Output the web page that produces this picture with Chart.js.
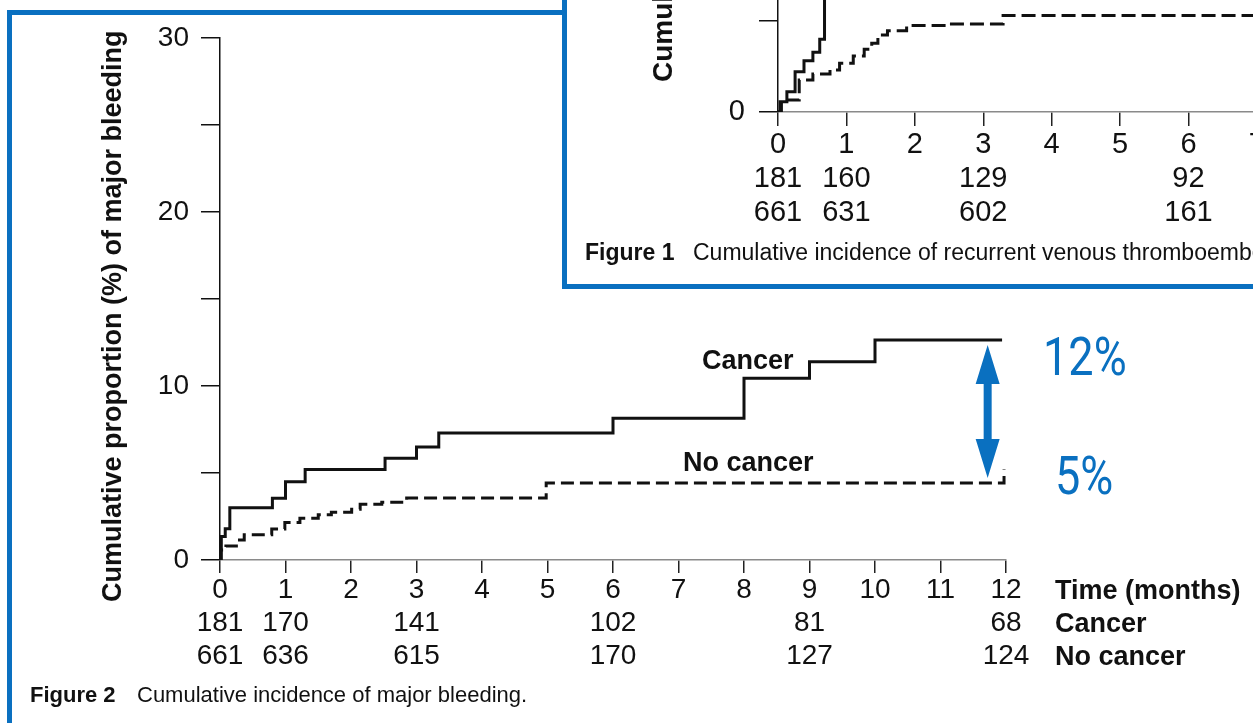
<!DOCTYPE html>
<html>
<head>
<meta charset="utf-8">
<script src="https://cdn.jsdelivr.net/npm/chart.js@4.4.1/dist/chart.umd.min.js"></script>
<style>
  html, body { margin: 0; padding: 0; }
  body { width: 1253px; height: 723px; overflow: hidden; position: relative; background: #fff;
         font-family: 'Liberation Sans', Arial, sans-serif; color: #111; }
  .frame { position: absolute; left: 7px; top: 10px; width: 1400px; height: 900px;
           border: 5px solid #0a70c0; box-sizing: border-box; }
  .inset { position: absolute; left: 562px; top: -20px; width: 800px; height: 309px;
           border: 5px solid #0a70c0; box-sizing: border-box; background: #fff; overflow: hidden; z-index: 5; }
  .t { position: absolute; white-space: nowrap; line-height: 1.2; }
  .b { font-weight: bold; }
  .ytitle { position: absolute; white-space: nowrap; line-height: 1; font-weight: bold;
            transform: rotate(-90deg); transform-origin: 0 0; }
  .pct { position: absolute; white-space: nowrap; line-height: 1.2; font-family: Roboto, sans-serif;
         font-size: 53px; color: #0a70c0; transform: scaleX(0.85); transform-origin: 0 0; }
  canvas { position: absolute; }
</style>
</head>
<body>
<div class="frame"></div>
<canvas id="bleedChart" width="1253" height="723" style="left:0;top:0"></canvas>

<div class="ytitle" style="left:99px;top:602px;font-size:27px">Cumulative proportion (%) of major bleeding</div>
<div class="t b" style="left:702px;top:344px;font-size:27px">Cancer</div>
<div class="t b" style="left:683px;top:446px;font-size:27px">No cancer</div>
<div class="pct" style="left:1043px;top:326px">12%</div>
<div class="pct" style="left:1055px;top:445px">5%</div>
<div class="t b" style="left:1055px;top:574px;font-size:27px">Time (months)</div>
<div class="t b" style="left:1055px;top:607px;font-size:27px">Cancer</div>
<div class="t b" style="left:1055px;top:640px;font-size:27px">No cancer</div>
<div class="t" style="left:30px;top:682px;font-size:22px"><b>Figure 2</b></div>
<div class="t" style="left:137px;top:682px;font-size:22px">Cumulative incidence of major bleeding.</div>

<div class="inset">
  <canvas id="vteChart" width="1100" height="765" style="left:0;top:-465px"></canvas>
  <div class="ytitle" style="left:82px;top:97px;font-size:28px">Cumulative proportion (%) of recurrent VTE</div>
  <div class="t" style="left:18px;top:254px;font-size:23px"><b>Figure 1</b></div>
  <div class="t" style="left:126px;top:254px;font-size:23px">Cumulative incidence of recurrent venous thromboembolism.</div>
</div>

<script>
// x ticks (months) and numbers at risk
var months = [0, 1, 2, 3, 4, 5, 6, 7, 8, 9, 10, 11, 12];
var yLabelValues = [0, 10, 20, 30];

// Figure 2: major bleeding
var atRiskCancer   = ["181", "170", "", "141", "", "", "102", "", "", "81", "", "", "68"];
var atRiskNoCancer = ["661", "636", "", "615", "", "", "170", "", "", "127", "", "", "124"];
var cancerT     = [0, 0.02, 0.08, 0.15, 0.8, 1.0, 1.3, 2.52, 3.0, 3.34, 6.0, 8.0, 9.0, 10.0, 11.94];
var cancerPct   = [0, 1.35, 1.8, 3.0, 3.55, 4.5, 5.2, 5.85, 6.5, 7.3, 8.15, 10.45, 11.4, 12.65, 12.65];
var noCancerT   = [0, 0.01, 0.09, 0.25, 0.37, 0.79, 0.99, 1.22, 1.5, 1.7, 2.01, 2.14, 2.47, 2.85, 4.98, 11.97];
var noCancerPct = [0, 0.57, 0.8, 1.15, 1.45, 1.78, 2.15, 2.4, 2.6, 2.75, 2.92, 3.2, 3.32, 3.56, 4.43, 5.2];
var arrowMonth = 11.72;

// Figure 1 (inset): recurrent VTE
var vteRiskCancer   = ["181", "160", "", "129", "", "", "92", "", "", "", "", "", ""];
var vteRiskNoCancer = ["661", "631", "", "602", "", "", "161", "", "", "", "", "", ""];
var vteCancerT     = [0, 0.03, 0.13, 0.25, 0.38, 0.51, 0.61, 0.68];
var vteCancerPct   = [0, 0.56, 1.11, 2.2, 2.81, 3.27, 3.98, 9.5];
var vteNoCancerT   = [0, 0.05, 0.31, 0.51, 0.76, 0.9, 1.1, 1.26, 1.37, 1.46, 1.6, 1.88, 2.46, 3.29, 12];
var vteNoCancerPct = [0, 0.66, 1.75, 2.08, 2.3, 2.67, 3.07, 3.43, 3.76, 4.22, 4.45, 4.73, 4.82, 5.28, 5.28];

var NUM_FONT = "'Liberation Sans Narrow', 'Liberation Sans', Arial, sans-serif";

function points(ts, vs) {
    return ts.map(function (t, i) { return { x: t, y: vs[i] }; });
}

// blue double arrow between the two 12-month values
var gapArrow = {
    id: "gapArrow",
    afterDatasetsDraw: function (chart) {
        var ctx = chart.ctx;
        var x = chart.scales.x.getPixelForValue(arrowMonth);
        var top = chart.scales.y.getPixelForValue(cancerPct[cancerPct.length - 1]) + 5;
        var bot = chart.scales.y.getPixelForValue(noCancerPct[noCancerPct.length - 2]) - 5;
        var head = 39, half = 12, shaft = 4;
        ctx.save();
        ctx.fillStyle = "#0a70c0";
        ctx.beginPath();
        ctx.moveTo(x, top);
        ctx.lineTo(x + half, top + head);
        ctx.lineTo(x + shaft, top + head);
        ctx.lineTo(x + shaft, bot - head);
        ctx.lineTo(x + half, bot - head);
        ctx.lineTo(x, bot);
        ctx.lineTo(x - half, bot - head);
        ctx.lineTo(x - shaft, bot - head);
        ctx.lineTo(x - shaft, top + head);
        ctx.lineTo(x - half, top + head);
        ctx.closePath();
        ctx.fill();
        ctx.restore();
    }
};

function kmChart(id, o) {
    return new Chart(document.getElementById(id), {
        type: "line",
        data: {
            datasets: [
                {
                    label: "Cancer",
                    data: o.cancer,
                    borderColor: "#111",
                    borderWidth: o.lw,
                    stepped: "before",
                    pointRadius: 0,
                    fill: false
                },
                {
                    label: "No cancer",
                    data: o.noCancer,
                    borderColor: "#111",
                    borderWidth: o.lw,
                    borderDash: o.dash,
                    stepped: "before",
                    pointRadius: 0,
                    fill: false
                }
            ]
        },
        options: {
            responsive: false,
            animation: false,
            events: [],
            layout: { padding: o.padding },
            plugins: { legend: { display: false }, tooltip: { enabled: false } },
            scales: {
                x: {
                    type: "linear",
                    min: 0,
                    max: 12,
                    afterFit: function (s) { s.height = o.xHeight; },
                    grid: { drawOnChartArea: false, tickLength: o.xTick, color: "#222", lineWidth: 1.5 },
                    border: { color: "#8a8a8a", width: 1.5 },
                    ticks: {
                        stepSize: 1,
                        autoSkip: false,
                        maxRotation: 0,
                        padding: o.xPad,
                        color: "#111",
                        font: { family: NUM_FONT, size: o.font, lineHeight: o.lineH },
                        callback: function (v) {
                            return [String(months[v]), o.riskA[v] || "", o.riskB[v] || ""];
                        }
                    }
                },
                y: {
                    min: 0,
                    max: 30,
                    afterFit: function (s) { s.width = o.yWidth; },
                    grid: { drawOnChartArea: false, tickLength: o.yTick, color: "#111", lineWidth: 1.5 },
                    border: { color: "#111", width: 1.5 },
                    ticks: {
                        stepSize: 5,
                        padding: o.yPad,
                        color: "#111",
                        font: { family: NUM_FONT, size: o.font },
                        callback: function (v) {
                            return yLabelValues.indexOf(v) >= 0 ? String(v) : "";
                        }
                    }
                }
            }
        },
        plugins: o.plugins || []
    });
}

var bleedChart = kmChart("bleedChart", {
    cancer: points(cancerT, cancerPct),
    noCancer: points(noCancerT, noCancerPct),
    riskA: atRiskCancer,
    riskB: atRiskNoCancer,
    lw: 3,
    dash: [13, 6],
    padding: { left: 0, top: 38, right: 247, bottom: 0 },
    xHeight: 163,
    yWidth: 220,
    xTick: 13,
    yTick: 19,
    xPad: 1,
    yPad: 12,
    font: 28,
    lineH: 1.18,
    plugins: [gapArrow]
});

var vteChart = kmChart("vteChart", {
    cancer: points(vteCancerT, vteCancerPct),
    noCancer: points(vteNoCancerT, vteNoCancerPct),
    riskA: vteRiskCancer,
    riskB: vteRiskNoCancer,
    lw: 3,
    dash: [14, 6],
    padding: { left: 0, top: 44, right: 68, bottom: 0 },
    xHeight: 173,
    yWidth: 211,
    xTick: 14,
    yTick: 19,
    xPad: 2,
    yPad: 14,
    font: 29,
    lineH: 1.17
});
</script>
</body>
</html>
